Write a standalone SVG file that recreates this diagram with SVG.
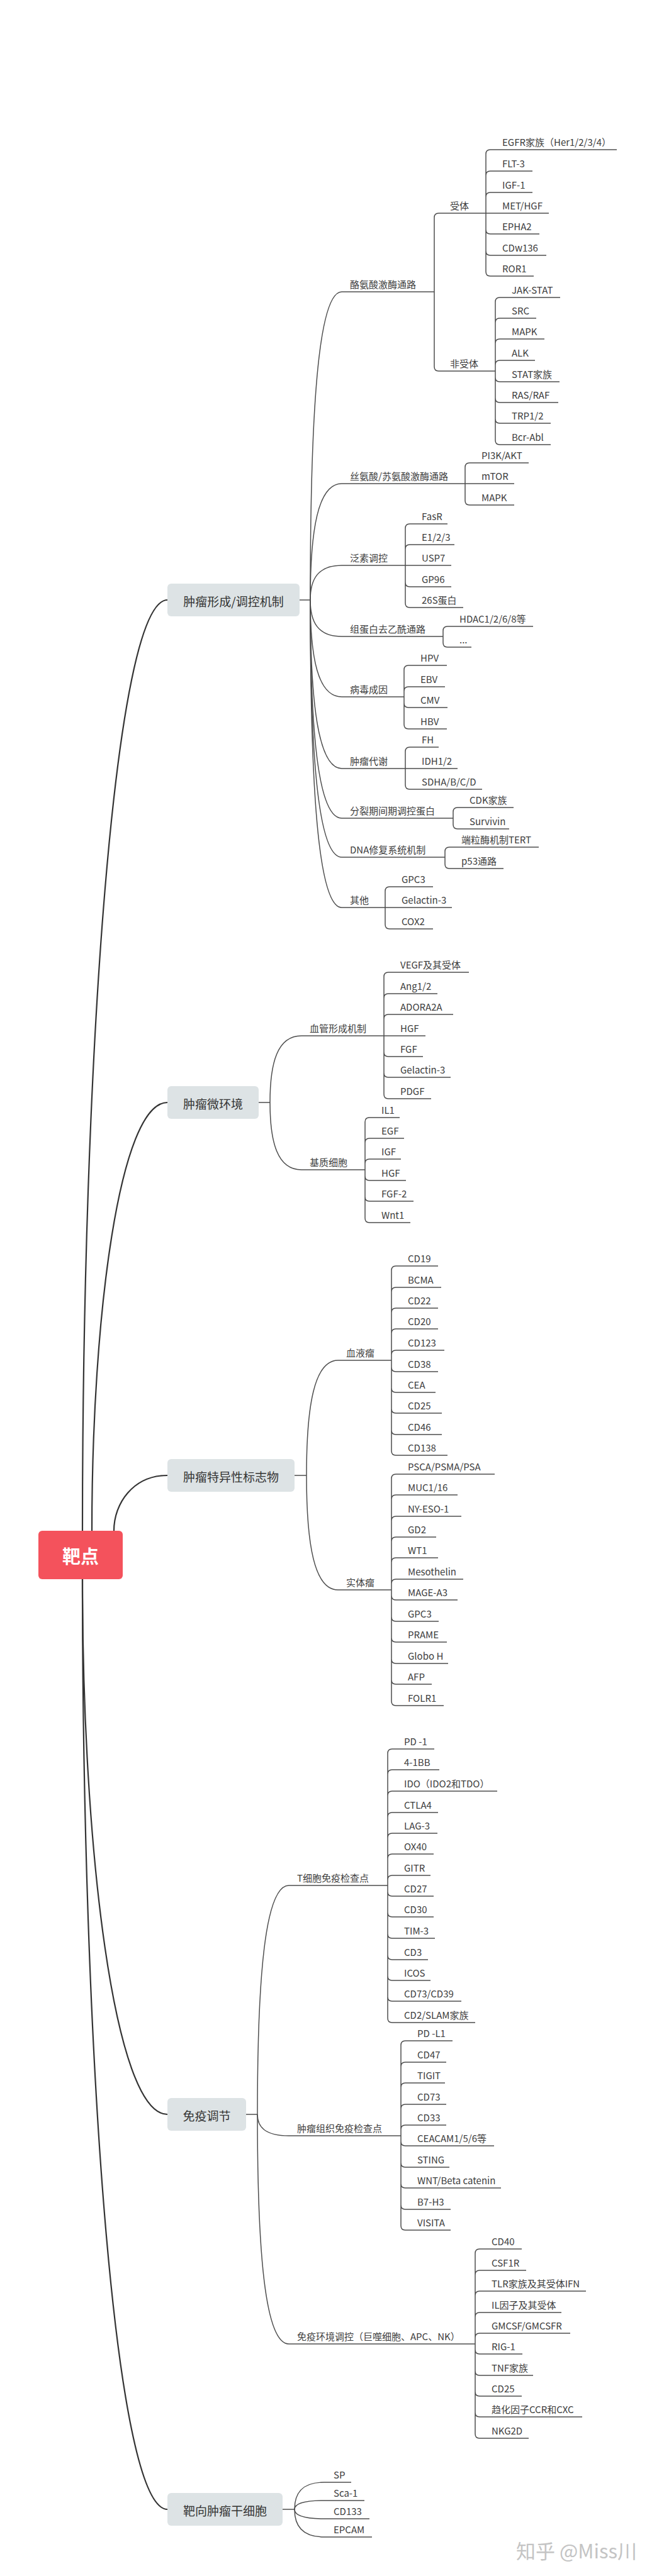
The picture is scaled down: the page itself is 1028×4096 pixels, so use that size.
<svg xmlns="http://www.w3.org/2000/svg" width="1028" height="4096" viewBox="0 0 1028 4096">
<style>
.t{font-family:"Noto Sans CJK SC","Liberation Sans",sans-serif;font-size:15px;fill:#3d3d3d}
.m{font-family:"Noto Sans CJK SC","Liberation Sans",sans-serif;font-size:19px;fill:#333;text-anchor:middle;dominant-baseline:central}
.r{font-family:"Noto Sans CJK SC","Liberation Sans",sans-serif;font-size:29px;font-weight:bold;fill:#fff;text-anchor:middle;dominant-baseline:central}
.box{fill:#dde3e5}
.c1{fill:none;stroke:#333;stroke-width:2.2}
.c2{fill:none;stroke:#4d4d4d;stroke-width:1.5}
.wm{font-family:"Noto Sans CJK SC","Liberation Sans",sans-serif;font-size:31px;fill:#c4c4c4;text-anchor:end}
</style>
<rect width="1028" height="4096" fill="#fff"/>
<g id="connectors">
<g class="c1">
<path d="M131 2434 C131 1694 181 954 266 954"/>
<path d="M146 2434 C146 2093 190 1753 266 1753"/>
<path d="M181 2434 C181 2390 212 2346 266 2346"/>
<path d="M131 2511 C131 2936 181 3362 266 3362"/>
<path d="M131 2511 C131 3250 181 3990 266 3990"/>
</g>
<g class="c2">
<path d="M476 954 H493 M411 1753 H429 M468 2346 H487 M391 3362 H409 M449 3990 H468"/>
<path d="M493 954 C493 660 505 464 543 464 H690"/>
<path d="M493 954 C493 843 505 769 543 769 H739"/>
<path d="M493 954 C493 921 505 899 543 899 H644"/>
<path d="M493 954 C493 989 505 1012 543 1012 H704"/>
<path d="M493 954 C493 1046 505 1108 543 1108 H642"/>
<path d="M493 954 C493 1115 505 1222 543 1222 H644"/>
<path d="M493 954 C493 1162 505 1301 543 1301 H720"/>
<path d="M493 954 C493 1199 505 1363 543 1363 H707"/>
<path d="M493 954 C493 1247 505 1443 543 1443 H612"/>
<path d="M690 464 V346 Q690 339 697 339 H772"/>
<path d="M690 464 V583 Q690 590 697 590 H787"/>
<path d="M772 339 V245 Q772 238 779 238 H980 M772 339 V279 Q772 272 779 272 H846 M772 339 V313 Q772 306 779 306 H846 M772 339 H872 M772 339 V365 Q772 372 779 372 H857 M772 339 V399 Q772 406 779 406 H868 M772 339 V432 Q772 439 779 439 H848"/>
<path d="M787 590 V480 Q787 473 794 473 H890 M787 590 V513 Q787 506 794 506 H852 M787 590 V546 Q787 539 794 539 H865 M787 590 V580 Q787 573 794 573 H850 M787 590 V600 Q787 607 794 607 H889 M787 590 V633 Q787 640 794 640 H887 M787 590 V666 Q787 673 794 673 H875 M787 590 V700 Q787 707 794 707 H875"/>
<path d="M739 769 V743 Q739 736 746 736 H840 M739 769 H817 M739 769 V796 Q739 803 746 803 H817"/>
<path d="M644 899 V840 Q644 833 651 833 H711 M644 899 V873 Q644 866 651 866 H722 M644 899 H717 M644 899 V926 Q644 933 651 933 H717 M644 899 V959 Q644 966 651 966 H736"/>
<path d="M704 1012 V1003 Q704 996 711 996 H847 M704 1012 V1022 Q704 1029 711 1029 H749"/>
<path d="M642 1108 V1065 Q642 1058 649 1058 H710 M642 1108 V1099 Q642 1092 649 1092 H707 M642 1108 V1118 Q642 1125 649 1125 H711 M642 1108 V1152 Q642 1159 649 1159 H710"/>
<path d="M644 1222 V1195 Q644 1188 651 1188 H697 M644 1222 H727 M644 1222 V1248 Q644 1255 651 1255 H766"/>
<path d="M720 1301 V1291 Q720 1284 727 1284 H816 M720 1301 V1311 Q720 1318 727 1318 H809"/>
<path d="M707 1363 V1354 Q707 1347 714 1347 H856 M707 1363 V1374 Q707 1381 714 1381 H800"/>
<path d="M612 1443 V1417 Q612 1410 619 1410 H688 M612 1443 H718 M612 1443 V1470 Q612 1477 619 1477 H688"/>
<path d="M429 1753 C429 1689 441 1647 479 1647 H610"/>
<path d="M429 1753 C429 1817 441 1860 479 1860 H580"/>
<path d="M610 1647 V1553 Q610 1546 617 1546 H745 M610 1647 V1587 Q610 1580 617 1580 H695 M610 1647 V1620 Q610 1613 617 1613 H720 M610 1647 H676 M610 1647 V1673 Q610 1680 617 1680 H672 M610 1647 V1706 Q610 1713 617 1713 H716 M610 1647 V1740 Q610 1747 617 1747 H685"/>
<path d="M580 1860 V1784 Q580 1777 587 1777 H635 M580 1860 V1817 Q580 1810 587 1810 H642 M580 1860 V1850 Q580 1843 587 1843 H637 M580 1860 V1870 Q580 1877 587 1877 H645 M580 1860 V1903 Q580 1910 587 1910 H657 M580 1860 V1937 Q580 1944 587 1944 H652"/>
<path d="M487 2346 C487 2236 499 2163 537 2163 H622"/>
<path d="M487 2346 C487 2455 499 2528 537 2528 H622"/>
<path d="M622 2163 V2020 Q622 2013 629 2013 H696 M622 2163 V2054 Q622 2047 629 2047 H701 M622 2163 V2087 Q622 2080 629 2080 H696 M622 2163 V2120 Q622 2113 629 2113 H696 M622 2163 V2154 Q622 2147 629 2147 H706 M622 2163 V2174 Q622 2181 629 2181 H696 M622 2163 V2207 Q622 2214 629 2214 H692 M622 2163 V2240 Q622 2247 629 2247 H702 M622 2163 V2274 Q622 2281 629 2281 H702 M622 2163 V2307 Q622 2314 629 2314 H711"/>
<path d="M622 2528 V2351 Q622 2344 629 2344 H786 M622 2528 V2384 Q622 2377 629 2377 H727 M622 2528 V2418 Q622 2411 629 2411 H733 M622 2528 V2451 Q622 2444 629 2444 H693 M622 2528 V2484 Q622 2477 629 2477 H696 M622 2528 V2518 Q622 2511 629 2511 H736 M622 2528 V2537 Q622 2544 629 2544 H727 M622 2528 V2571 Q622 2578 629 2578 H697 M622 2528 V2604 Q622 2611 629 2611 H710 M622 2528 V2638 Q622 2645 629 2645 H712 M622 2528 V2671 Q622 2678 629 2678 H686 M622 2528 V2705 Q622 2712 629 2712 H705"/>
<path d="M409 3362 C409 3144 421 2998 459 2998 H616"/>
<path d="M409 3362 C409 3382 421 3396 459 3396 H637"/>
<path d="M409 3362 C409 3581 421 3727 459 3727 H755"/>
<path d="M616 2998 V2788 Q616 2781 623 2781 H690 M616 2998 V2821 Q616 2814 623 2814 H698 M616 2998 V2855 Q616 2848 623 2848 H790 M616 2998 V2889 Q616 2882 623 2882 H696 M616 2998 V2922 Q616 2915 623 2915 H695 M616 2998 V2955 Q616 2948 623 2948 H689 M616 2998 V2989 Q616 2982 623 2982 H684 M616 2998 V3008 Q616 3015 623 3015 H689 M616 2998 V3041 Q616 3048 623 3048 H689 M616 2998 V3075 Q616 3082 623 3082 H691 M616 2998 V3109 Q616 3116 623 3116 H680 M616 2998 V3142 Q616 3149 623 3149 H684 M616 2998 V3175 Q616 3182 623 3182 H733 M616 2998 V3209 Q616 3216 623 3216 H755"/>
<path d="M637 3396 V3252 Q637 3245 644 3245 H719 M637 3396 V3286 Q637 3279 644 3279 H709 M637 3396 V3319 Q637 3312 644 3312 H707 M637 3396 V3353 Q637 3346 644 3346 H709 M637 3396 V3386 Q637 3379 644 3379 H709 M637 3396 V3405 Q637 3412 644 3412 H785 M637 3396 V3439 Q637 3446 644 3446 H714 M637 3396 V3472 Q637 3479 644 3479 H796 M637 3396 V3506 Q637 3513 644 3513 H716 M637 3396 V3539 Q637 3546 644 3546 H716"/>
<path d="M755 3727 V3583 Q755 3576 762 3576 H829 M755 3727 V3617 Q755 3610 762 3610 H836 M755 3727 V3650 Q755 3643 762 3643 H931 M755 3727 V3684 Q755 3677 762 3677 H892 M755 3727 V3717 Q755 3710 762 3710 H906 M755 3727 V3736 Q755 3743 762 3743 H830 M755 3727 V3770 Q755 3777 762 3777 H847 M755 3727 V3803 Q755 3810 762 3810 H829 M755 3727 V3836 Q755 3843 762 3843 H925 M755 3727 V3870 Q755 3877 762 3877 H840"/>
<path d="M468 3990 C468 3964 480 3947 515 3947 H558"/>
<path d="M468 3990 C468 3982 480 3976 515 3976 H579"/>
<path d="M468 3990 C468 3999 480 4005 515 4005 H587"/>
<path d="M468 3990 C468 4016 480 4034 515 4034 H591"/>
</g>
</g>
<g id="root"><rect x="61" y="2434" width="134" height="77" rx="6" fill="#f4525c"/><text class="r" x="128" y="2473">靶点</text></g>
<g id="b1"><rect class="box" x="266" y="928" width="210" height="52" rx="6"/><text class="m" x="371" y="955">肿瘤形成/调控机制</text></g>
<g id="b2"><rect class="box" x="266" y="1727" width="145" height="52" rx="6"/><text class="m" x="338.5" y="1754">肿瘤微环境</text></g>
<g id="b3"><rect class="box" x="266" y="2320" width="202" height="52" rx="6"/><text class="m" x="367" y="2347">肿瘤特异性标志物</text></g>
<g id="b4"><rect class="box" x="266" y="3336" width="125" height="52" rx="6"/><text class="m" x="328.5" y="3363">免疫调节</text></g>
<g id="b5"><rect class="box" x="266" y="3964" width="183" height="52" rx="6"/><text class="m" x="357.5" y="3991">靶向肿瘤干细胞</text></g>
<g id="b1-sub" class="t">
<g id="n1-1"><text x="556" y="458">酪氨酸激酶通路</text></g>
<g id="n1-1-1"><text x="715" y="333">受体</text></g>
<g id="n1-1-1-l"><text x="798" y="232">EGFR家族（Her1/2/3/4）</text><text x="798" y="266">FLT-3</text><text x="798" y="300">IGF-1</text><text x="798" y="333">MET/HGF</text><text x="798" y="366">EPHA2</text><text x="798" y="400">CDw136</text><text x="798" y="433">ROR1</text></g>
<g id="n1-1-2"><text x="715" y="584">非受体</text></g>
<g id="n1-1-2-l"><text x="813" y="467">JAK-STAT</text><text x="813" y="500">SRC</text><text x="813" y="533">MAPK</text><text x="813" y="567">ALK</text><text x="813" y="601">STAT家族</text><text x="813" y="634">RAS/RAF</text><text x="813" y="667">TRP1/2</text><text x="813" y="701">Bcr-Abl</text></g>
<g id="n1-2"><text x="556" y="763">丝氨酸/苏氨酸激酶通路</text></g>
<g id="n1-2-l"><text x="765" y="730">PI3K/AKT</text><text x="765" y="763">mTOR</text><text x="765" y="797">MAPK</text></g>
<g id="n1-3"><text x="556" y="893">泛素调控</text></g>
<g id="n1-3-l"><text x="670" y="827">FasR</text><text x="670" y="860">E1/2/3</text><text x="670" y="893">USP7</text><text x="670" y="927">GP96</text><text x="670" y="960">26S蛋白</text></g>
<g id="n1-4"><text x="556" y="1006">组蛋白去乙酰通路</text></g>
<g id="n1-4-l"><text x="730" y="990">HDAC1/2/6/8等</text><text x="730" y="1023">...</text></g>
<g id="n1-5"><text x="556" y="1102">病毒成因</text></g>
<g id="n1-5-l"><text x="668" y="1052">HPV</text><text x="668" y="1086">EBV</text><text x="668" y="1119">CMV</text><text x="668" y="1153">HBV</text></g>
<g id="n1-6"><text x="556" y="1216">肿瘤代谢</text></g>
<g id="n1-6-l"><text x="670" y="1182">FH</text><text x="670" y="1216">IDH1/2</text><text x="670" y="1249">SDHA/B/C/D</text></g>
<g id="n1-7"><text x="556" y="1295">分裂期间期调控蛋白</text></g>
<g id="n1-7-l"><text x="746" y="1278">CDK家族</text><text x="746" y="1312">Survivin</text></g>
<g id="n1-8"><text x="556" y="1357">DNA修复系统机制</text></g>
<g id="n1-8-l"><text x="733" y="1341">端粒酶机制TERT</text><text x="733" y="1375">p53通路</text></g>
<g id="n1-9"><text x="556" y="1437">其他</text></g>
<g id="n1-9-l"><text x="638" y="1404">GPC3</text><text x="638" y="1437">Gelactin-3</text><text x="638" y="1471">COX2</text></g>
</g>
<g id="b2-sub" class="t">
<g id="n2-1"><text x="492" y="1641">血管形成机制</text></g>
<g id="n2-1-l"><text x="636" y="1540">VEGF及其受体</text><text x="636" y="1574">Ang1/2</text><text x="636" y="1607">ADORA2A</text><text x="636" y="1641">HGF</text><text x="636" y="1674">FGF</text><text x="636" y="1707">Gelactin-3</text><text x="636" y="1741">PDGF</text></g>
<g id="n2-2"><text x="492" y="1854">基质细胞</text></g>
<g id="n2-2-l"><text x="606" y="1771">IL1</text><text x="606" y="1804">EGF</text><text x="606" y="1837">IGF</text><text x="606" y="1871">HGF</text><text x="606" y="1904">FGF-2</text><text x="606" y="1938">Wnt1</text></g>
</g>
<g id="b3-sub" class="t">
<g id="n3-1"><text x="550" y="2157">血液瘤</text></g>
<g id="n3-1-l"><text x="648" y="2007">CD19</text><text x="648" y="2041">BCMA</text><text x="648" y="2074">CD22</text><text x="648" y="2107">CD20</text><text x="648" y="2141">CD123</text><text x="648" y="2175">CD38</text><text x="648" y="2208">CEA</text><text x="648" y="2241">CD25</text><text x="648" y="2275">CD46</text><text x="648" y="2308">CD138</text></g>
<g id="n3-2"><text x="550" y="2522">实体瘤</text></g>
<g id="n3-2-l"><text x="648" y="2338">PSCA/PSMA/PSA</text><text x="648" y="2371">MUC1/16</text><text x="648" y="2405">NY-ESO-1</text><text x="648" y="2438">GD2</text><text x="648" y="2471">WT1</text><text x="648" y="2505">Mesothelin</text><text x="648" y="2538">MAGE-A3</text><text x="648" y="2572">GPC3</text><text x="648" y="2605">PRAME</text><text x="648" y="2639">Globo H</text><text x="648" y="2672">AFP</text><text x="648" y="2706">FOLR1</text></g>
</g>
<g id="b4-sub" class="t">
<g id="n4-1"><text x="472" y="2992">T细胞免疫检查点</text></g>
<g id="n4-1-l"><text x="642" y="2775">PD -1</text><text x="642" y="2808">4-1BB</text><text x="642" y="2842">IDO（IDO2和TDO）</text><text x="642" y="2876">CTLA4</text><text x="642" y="2909">LAG-3</text><text x="642" y="2942">OX40</text><text x="642" y="2976">GITR</text><text x="642" y="3009">CD27</text><text x="642" y="3042">CD30</text><text x="642" y="3076">TIM-3</text><text x="642" y="3110">CD3</text><text x="642" y="3143">ICOS</text><text x="642" y="3176">CD73/CD39</text><text x="642" y="3210">CD2/SLAM家族</text></g>
<g id="n4-2"><text x="472" y="3390">肿瘤组织免疫检查点</text></g>
<g id="n4-2-l"><text x="663" y="3239">PD -L1</text><text x="663" y="3273">CD47</text><text x="663" y="3306">TIGIT</text><text x="663" y="3340">CD73</text><text x="663" y="3373">CD33</text><text x="663" y="3406">CEACAM1/5/6等</text><text x="663" y="3440">STING</text><text x="663" y="3473">WNT/Beta catenin</text><text x="663" y="3507">B7-H3</text><text x="663" y="3540">VISITA</text></g>
<g id="n4-3"><text x="472" y="3721">免疫环境调控（巨噬细胞、APC、NK）</text></g>
<g id="n4-3-l"><text x="781" y="3570">CD40</text><text x="781" y="3604">CSF1R</text><text x="781" y="3637">TLR家族及其受体IFN</text><text x="781" y="3671">IL因子及其受体</text><text x="781" y="3704">GMCSF/GMCSFR</text><text x="781" y="3737">RIG-1</text><text x="781" y="3771">TNF家族</text><text x="781" y="3804">CD25</text><text x="781" y="3837">趋化因子CCR和CXC</text><text x="781" y="3871">NKG2D</text></g>
</g>
<g id="b5-sub" class="t">
<g id="n5-l"><text x="530" y="3941">SP</text><text x="530" y="3970">Sca-1</text><text x="530" y="3999">CD133</text><text x="530" y="4028">EPCAM</text></g>
</g>
<text class="wm" x="1012" y="4068">知乎 @Miss川</text>
</svg>
